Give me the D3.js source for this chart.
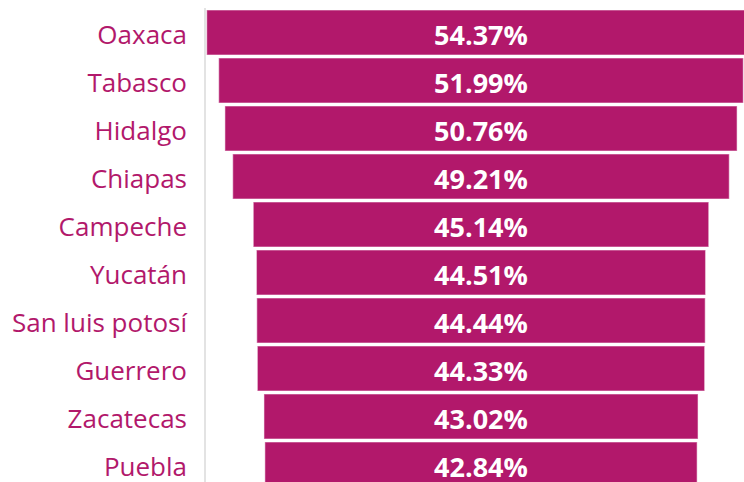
<!DOCTYPE html>
<html>
<head>
<meta charset="utf-8">
<script src="https://cdn.jsdelivr.net/npm/d3@7"></script>
<style>
  html, body { margin: 0; padding: 0; background: #fff; }
  svg { display: block; }
</style>
</head>
<body>
<svg id="chart" width="744" height="482"></svg>
<script>
const categories = ["Oaxaca", "Tabasco", "Hidalgo", "Chiapas", "Campeche", "Yucatán", "San luis potosí", "Guerrero", "Zacatecas", "Puebla"];
const values = [54.37, 51.99, 50.76, 49.21, 45.14, 44.51, 44.44, 44.33, 43.02, 42.84];

const W = 744, H = 482;
const barColor = "#B2186B";
const labelColor = "#B2186B";

const svg = d3.select("#chart");
const data = categories.map((c, i) => ({ category: c, value: values[i] }));
const maxV = d3.max(values);

const y = d3.scaleBand()
  .domain(categories)
  .range([8.5, 488.5])
  .paddingInner(0.0625)
  .paddingOuter(0.03125);

const x = d3.scaleLinear()
  .domain([-maxV, maxV])
  .range([206.7, 755.3]);

// axis line
svg.append("line")
  .attr("x1", 205).attr("x2", 205)
  .attr("y1", 8).attr("y2", H)
  .attr("stroke", "#e3e3e3")
  .attr("stroke-width", 2);

// bars
svg.append("g").selectAll("rect")
  .data(data)
  .join("rect")
  .attr("x", d => x(-d.value))
  .attr("width", d => x(d.value) - x(-d.value))
  .attr("y", d => y(d.category))
  .attr("height", y.bandwidth())
  .attr("fill", barColor)
  .attr("stroke", "rgba(255,255,255,0.45)")
  .attr("stroke-width", 1.2);

// category labels
svg.append("g").selectAll("text")
  .data(data)
  .join("text")
  .attr("x", 187)
  .attr("y", d => y(d.category) + y.bandwidth() / 2)
  .attr("dy", "0.46em")
  .attr("text-anchor", "end")
  .attr("fill", labelColor)
  .style("font-family", "'Open Sans', sans-serif")
  .style("font-size", "26px")
  .text(d => d.category);

// value labels
svg.append("g").selectAll("text")
  .data(data)
  .join("text")
  .attr("x", x(0))
  .attr("y", d => y(d.category) + y.bandwidth() / 2)
  .attr("dy", "0.46em")
  .attr("text-anchor", "middle")
  .attr("fill", "#fff")
  .style("font-family", "'Open Sans', sans-serif")
  .style("font-weight", "bold")
  .style("font-size", "27px")
  .text(d => d.value.toFixed(2) + "%");
</script>
</body>
</html>
